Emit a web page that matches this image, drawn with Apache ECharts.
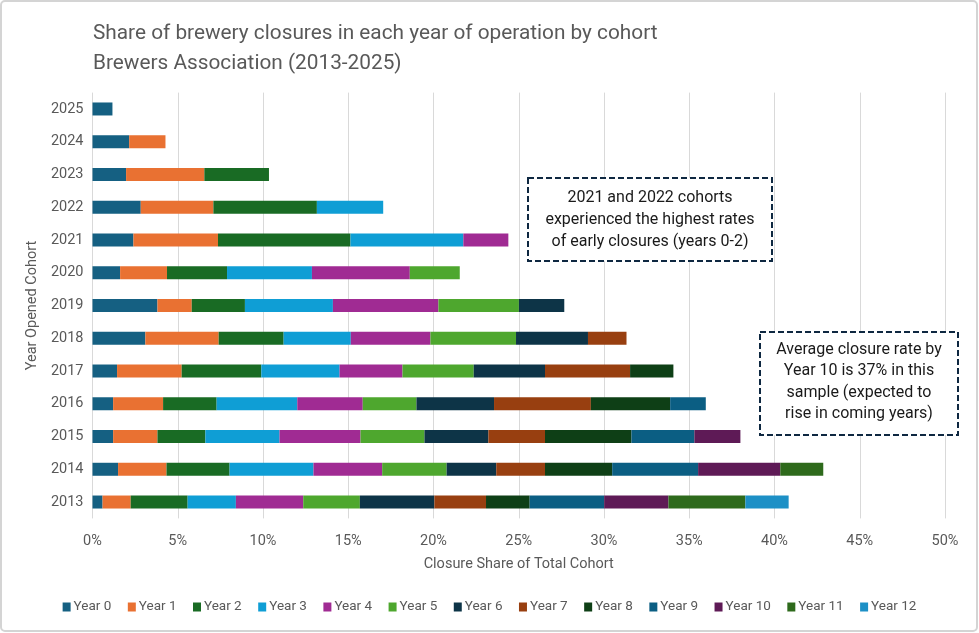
<!DOCTYPE html>
<html>
<head>
<meta charset="utf-8">
<script src="https://cdn.jsdelivr.net/npm/echarts@6/dist/echarts.min.js"></script>
<style>
    html, body { margin: 0; padding: 0; background: #fff; }
    #main { width: 979px; height: 633px; }
</style>
</head>
<body>
<div id="main"></div>
<script>
// cohorts, bottom to top
var cohorts = ['2013', '2014', '2015', '2016', '2017', '2018', '2019', '2020', '2021', '2022', '2023', '2024', '2025'];
var yearNames = ['Year 0', 'Year 1', 'Year 2', 'Year 3', 'Year 4', 'Year 5', 'Year 6', 'Year 7', 'Year 8', 'Year 9', 'Year 10', 'Year 11', 'Year 12'];
var colors = ['#156082', '#E97132', '#196B24', '#0F9ED5', '#A02B93', '#4EA72E', '#0D3447', '#983F10', '#0E3F16', '#0B5E83', '#5E1A56', '#2E6A1C', '#1D90C6'];
var xTicks = [0, 5, 10, 15, 20, 25, 30, 35, 40, 45, 50];

// closure share (%) per year of operation, one list per cohort
var closures2013 = [0.59, 1.65, 3.34, 2.83, 3.95, 3.32, 4.37, 3.03, 2.56, 4.37, 3.77, 4.51, 2.54];
var closures2014 = [1.50, 2.84, 3.70, 4.92, 4.03, 3.78, 2.91, 2.86, 3.94, 5.04, 4.82, 2.52];
var closures2015 = [1.21, 2.60, 2.81, 4.35, 4.75, 3.75, 3.75, 3.32, 5.07, 3.69, 2.70];
var closures2016 = [1.21, 2.93, 3.14, 4.73, 3.84, 3.15, 4.55, 5.68, 4.65, 2.09];
var closures2017 = [1.44, 3.79, 4.67, 4.59, 3.69, 4.18, 4.18, 4.99, 2.54];
var closures2018 = [3.10, 4.30, 3.81, 3.94, 4.67, 5.02, 4.22, 2.26];
var closures2019 = [3.81, 2.01, 3.12, 5.16, 6.19, 4.72, 2.66];
var closures2020 = [1.62, 2.75, 3.52, 4.98, 5.74, 2.93];
var closures2021 = [2.40, 4.96, 7.77, 6.62, 2.64];
var closures2022 = [2.83, 4.26, 6.07, 3.89];
var closures2023 = [1.97, 4.59, 3.79];
var closures2024 = [2.15, 2.13];
var closures2025 = [1.17];

var byCohort = [closures2013, closures2014, closures2015, closures2016, closures2017, closures2018,
    closures2019, closures2020, closures2021, closures2022, closures2023, closures2024, closures2025];

var textColor = '#595959';
var font = 'Roboto, "Noto Sans", sans-serif';

var series = yearNames.map(function (name, k) {
    return {
        name: name,
        type: 'bar',
        stack: 'total',
        barWidth: 13,
        itemStyle: { color: colors[k] },
        data: byCohort.map(function (arr) { return k < arr.length ? arr[k] : '-'; })
    };
});

var myChart = echarts.init(document.getElementById('main'), null, { renderer: 'canvas' });

var option = {
    animation: false,
    textStyle: { fontFamily: font },
    title: {
        text: 'Share of brewery closures in each year of operation by cohort\nBrewers Association (2013-2025)',
        left: 88,
        top: 14,
        textStyle: { fontSize: 20.8, fontWeight: 'normal', color: textColor, lineHeight: 30, fontFamily: font }
    },
    legend: {
        bottom: 14,
        left: 'center',
        itemWidth: 8,
        itemHeight: 9,
        itemGap: 16.5,
        icon: 'rect',
        textStyle: { fontSize: 13.5, color: textColor, padding: [0, 0, 0, -2] },
        data: yearNames
    },
    grid: {
        left: 92.5,
        right: 34,
        top: 92.6,
        bottom: 114.6
    },
    xAxis: {
        type: 'value',
        min: 0,
        max: 50,
        interval: 5,
        name: 'Closure Share of Total Cohort',
        nameLocation: 'middle',
        nameGap: 38,
        nameTextStyle: { fontSize: 14.5, color: textColor },
        axisLine: { show: false },
        axisTick: { show: false },
        axisLabel: {
            fontSize: 14.5, color: textColor, margin: 15,
            formatter: function (v) { return xTicks.indexOf(v) >= 0 ? v + '%' : ''; }
        },
        splitLine: { lineStyle: { color: '#d9d9d9', width: 1 } }
    },
    yAxis: {
        type: 'category',
        data: cohorts,
        name: 'Year Opened Cohort',
        nameLocation: 'middle',
        nameGap: 50,
        nameTextStyle: { fontSize: 14.5, color: textColor },
        axisLine: { show: false },
        axisTick: { show: false },
        axisLabel: { fontSize: 14.5, color: textColor, margin: 9 }
    },
    series: series,
    graphic: [
        {
            type: 'rect',
            shape: { x: 1, y: 1, width: 976, height: 630, r: 4 },
            style: { fill: 'none', stroke: '#d4d4d4', lineWidth: 2 },
            silent: true
        },
        {
            type: 'rect',
            shape: { x: 528, y: 178, width: 244, height: 83 },
            style: { fill: '#fff', stroke: '#0E2841', lineWidth: 2, lineDash: [6, 3] },
            z: 100
        },
        {
            type: 'text',
            x: 650, y: 220,
            style: {
                text: '2021 and 2022 cohorts\nexperienced the highest rates\nof early closures (years 0-2)',
                fontSize: 16, lineHeight: 22, fill: '#1a1a1a', fontFamily: font,
                align: 'center', verticalAlign: 'middle'
            },
            z: 101
        },
        {
            type: 'rect',
            shape: { x: 760, y: 332, width: 198, height: 103 },
            style: { fill: '#fff', stroke: '#0E2841', lineWidth: 2, lineDash: [6, 3] },
            z: 100
        },
        {
            type: 'text',
            x: 859, y: 382,
            style: {
                text: 'Average closure rate by\nYear 10 is 37% in this\nsample (expected to\nrise in coming years)',
                fontSize: 16, lineHeight: 21.5, fill: '#1a1a1a', fontFamily: font,
                align: 'center', verticalAlign: 'middle'
            },
            z: 101
        }
    ]
};

myChart.setOption(option);
window.addEventListener('resize', myChart.resize);
</script>
</body>
</html>
